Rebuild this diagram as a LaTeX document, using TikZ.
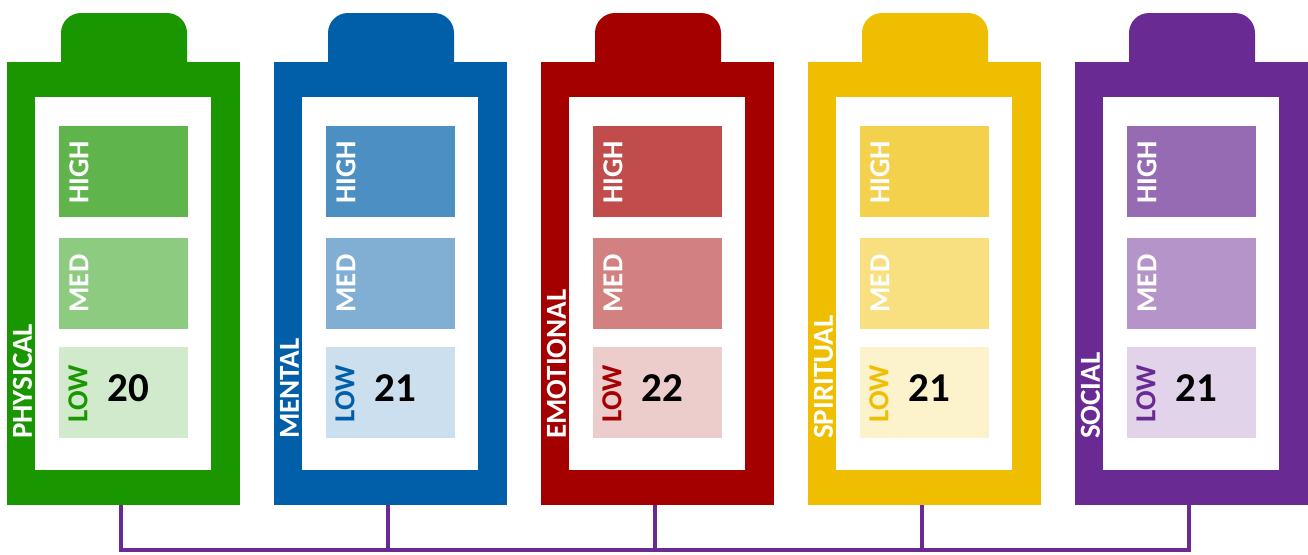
\documentclass[tikz,border=0pt]{standalone}
\usepackage{fontspec}
\setmainfont{Carlito}
\definecolor{cgreen}{RGB}{26,150,0}
\definecolor{cblue}{RGB}{0,95,168}
\definecolor{cred}{RGB}{165,0,0}
\definecolor{cyellow}{RGB}{240,190,0}
\definecolor{cpurple}{RGB}{106,42,148}
\tikzset{
  bodybox/.style={rectangle, inner sep=0pt, outer sep=0pt, minimum width=233pt, minimum height=443pt},
  innerbox/.style={rectangle, fill=white, inner sep=0pt, outer sep=0pt, minimum width=176pt, minimum height=373pt},
  levelbox/.style={rectangle, inner sep=0pt, outer sep=0pt, minimum width=129pt, minimum height=91pt},
  lvltext/.style={rotate=90, inner sep=0pt, font=\bfseries\fontsize{29}{29}\selectfont},
  cattext/.style={rotate=90, anchor=west, inner sep=0pt, text=white, font=\bfseries\fontsize{29}{29}\selectfont},
  numtext/.style={inner sep=0pt, text=black, font=\bfseries\fontsize{41}{41}\selectfont},
  conn/.style={draw=cpurple, line width=4pt}
}
\begin{document}
\begin{tikzpicture}[x=1pt,y=-1pt]
\useasboundingbox (0,0) rectangle (1308,554);
\foreach \i/\c/\lab/\num in {0/cgreen/PHYSICAL/20, 1/cblue/MENTAL/21, 2/cred/EMOTIONAL/22, 3/cyellow/SPIRITUAL/21, 4/cpurple/SOCIAL/21}{
  \begin{scope}[shift={(267*\i,0)}]
    \fill[\c] (61,63) -- (61,33) arc[start angle=180, end angle=270, radius=20] -- (167,13) arc[start angle=270, end angle=360, radius=20] -- (187,63) -- cycle;
    \node[bodybox, fill=\c] (body\i) at (123.5,283.5) {};
    \node[innerbox] (inner\i) at (123,283.5) {};
    \node[levelbox, fill=\c!70!white] (high\i) at (123.5,171.5) {};
    \node[levelbox, fill=\c!50!white] (med\i) at (123.5,283.5) {};
    \node[levelbox, fill=\c!20!white] (low\i) at (123.5,392.5) {};
    \node[lvltext, text=white] (hight\i) at (79,172.5) {HIGH};
    \node[lvltext, text=white] (medt\i) at (79,283.5) {MED};
    \node[lvltext, text=\c] (lowt\i) at (78,393.5) {LOW};
    \node[numtext] (num\i) at (128,388) {\num};
    \node[cattext] (cat\i) at (22.5,439) {\lab};
    \coordinate (c\i) at (120.5,550);
    \draw[conn] (body\i.south -| c\i) -- (c\i);
  \end{scope}
}
\draw[conn, line cap=rect] (c0) -- (c4);
\end{tikzpicture}
\end{document}
